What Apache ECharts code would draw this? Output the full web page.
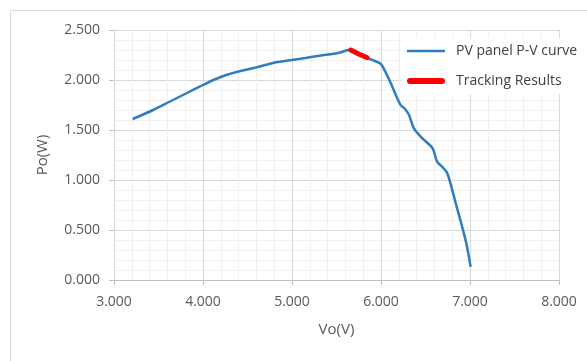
<!DOCTYPE html>
<html><head><meta charset="utf-8">
<script src="https://cdn.jsdelivr.net/npm/echarts@6/dist/echarts.min.js"></script>
<style>html,body{margin:0;padding:0;background:#fff}#c{width:587px;height:361px}</style>
</head><body><div id="c"></div>
<script>
var curveName = 'PV panel P-V curve';
var trackName = 'Tracking Results';
var pvVo = [3.21, 3.44, 3.63, 3.82, 4.0, 4.13, 4.26, 4.4, 4.56, 4.7, 4.82, 5.0, 5.15, 5.31, 5.53, 5.66, 5.75, 5.85, 5.93, 6.0, 6.11, 6.22, 6.27, 6.315, 6.37, 6.465, 6.58, 6.63, 6.69, 6.745, 6.84, 6.95, 7.007];
var pvPo = [1.61, 1.70, 1.785, 1.87, 1.95, 2.005, 2.05, 2.085, 2.117, 2.15, 2.177, 2.20, 2.22, 2.243, 2.273, 2.305, 2.265, 2.22, 2.19, 2.16, 1.967, 1.75, 1.71, 1.65, 1.517, 1.417, 1.317, 1.183, 1.13, 1.067, 0.767, 0.40, 0.133];
var trackVo = [5.66, 5.75, 5.84];
var trackPo = [2.30, 2.26, 2.225];
var xTicks = [3, 4, 5, 6, 7, 8];
var yTicks = [0, 0.5, 1, 1.5, 2, 2.5];

var font = 'Open Sans';
var chart = echarts.init(document.getElementById('c'), null, {renderer: 'canvas'});
function zip(a, b) { return a.map(function (v, i) { return [v, b[i]]; }); }
chart.setOption({
  animation: false,
  backgroundColor: '#fff',
  textStyle: {fontFamily: font},
  graphic: [{type: 'rect', shape: {x: 10.5, y: 10.5, width: 700, height: 500}, style: {fill: null, stroke: '#d9d9d9', lineWidth: 1}, silent: true, z: -1}],
  grid: {left: 114, right: 28, top: 30, bottom: 81},
  legend: {
    orient: 'vertical', left: 402, top: 38,
    backgroundColor: '#fff', padding: [6, 6, 6, 5],
    itemWidth: 38, itemHeight: 14, itemGap: 16,
    textStyle: {color: '#404040', fontSize: 14, fontFamily: font, padding: [0, 0, 0, 6]},
    data: [
      {name: curveName, icon: 'path://M0,0 L38,0 L38,2.6 L0,2.6 Z'},
      {name: trackName, icon: 'path://M3,0 L35,0 A3,3 0 0 1 35,6 L3,6 A3,3 0 0 1 3,0 Z'}
    ]
  },
  xAxis: {
    type: 'value', min: xTicks[0], max: xTicks[xTicks.length - 1], interval: 1,
    name: 'Vo(V)', nameLocation: 'middle', nameGap: 42,
    nameTextStyle: {color: '#595959', fontSize: 15, fontFamily: font},
    axisLine: {show: true, lineStyle: {color: '#bfbfbf'}},
    axisTick: {show: true, length: 5, lineStyle: {color: '#bfbfbf'}},
    axisLabel: {color: '#595959', fontSize: 14, margin: 15, formatter: function (v) { return v.toFixed(3); }},
    splitLine: {show: true, lineStyle: {color: '#d9d9d9'}},
    minorTick: {show: false, splitNumber: 5},
    minorSplitLine: {show: true, lineStyle: {color: '#f0f0f0'}}
  },
  yAxis: {
    type: 'value', min: yTicks[0], max: yTicks[yTicks.length - 1], interval: 0.5,
    name: 'Po(W)', nameLocation: 'middle', nameGap: 64,
    nameTextStyle: {color: '#595959', fontSize: 15, fontFamily: font},
    axisLine: {show: true, lineStyle: {color: '#d9d9d9'}},
    axisTick: {show: true, length: 5, lineStyle: {color: '#bfbfbf'}},
    axisLabel: {color: '#595959', fontSize: 14, margin: 14, formatter: function (v) { return v.toFixed(3); }},
    splitLine: {show: true, lineStyle: {color: '#d9d9d9'}},
    minorTick: {show: false, splitNumber: 5},
    minorSplitLine: {show: true, lineStyle: {color: '#f0f0f0'}}
  },
  series: [
    {name: curveName, type: 'line', data: zip(pvVo, pvPo), showSymbol: false, symbol: 'none', smooth: 0.3,
     lineStyle: {color: '#2e7dc0', width: 2.5}, itemStyle: {color: '#2e7dc0'}, z: 2},
    {name: trackName, type: 'line', data: zip(trackVo, trackPo), showSymbol: false, symbol: 'none',
     lineStyle: {color: '#ff0000', width: 5, cap: 'round'}, itemStyle: {color: '#ff0000'}, z: 3}
  ]
});
</script>
</body></html>
